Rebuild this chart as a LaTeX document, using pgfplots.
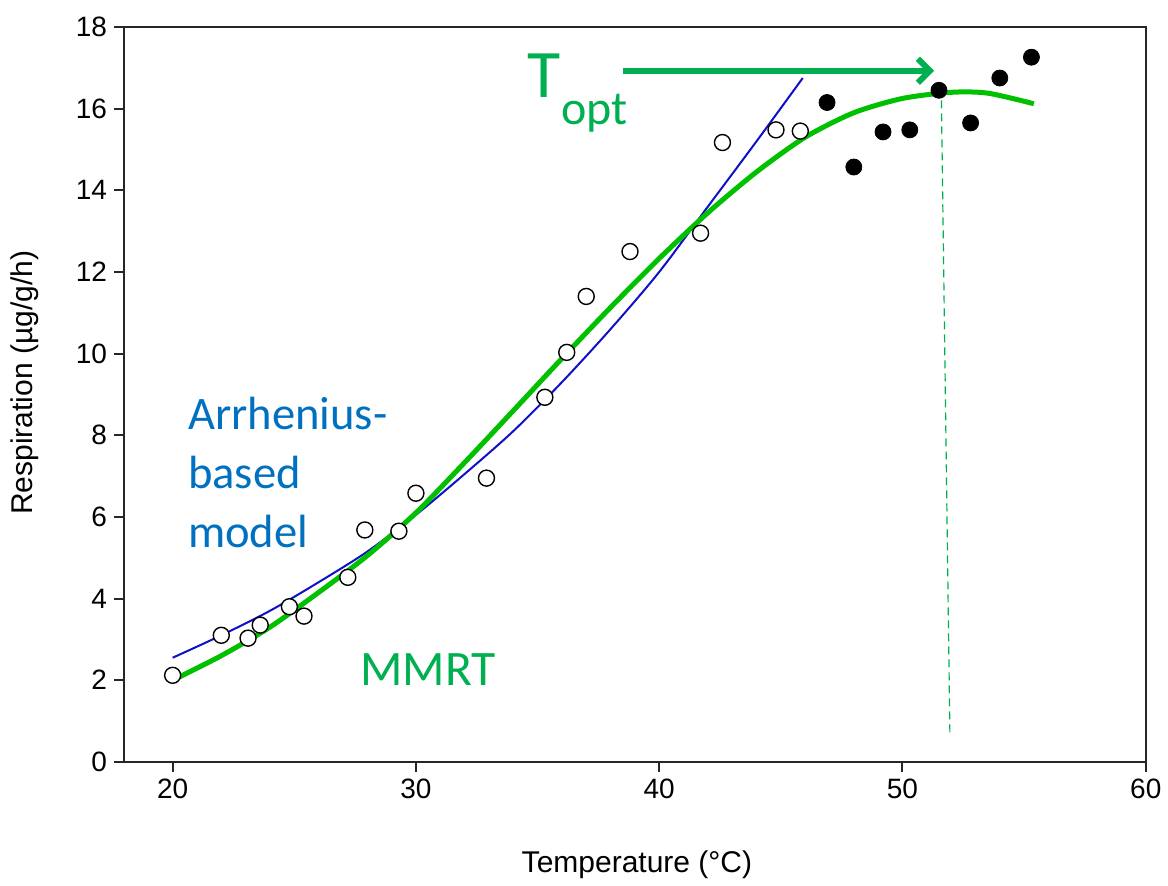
\documentclass[border=0pt]{standalone}
\usepackage{fontspec}
\setmainfont{Liberation Sans}
\newfontfamily\callig{Carlito}
\usepackage{pgfplots}
\pgfplotsset{compat=1.18}
\usetikzlibrary{arrows.meta}

\definecolor{blueline}{HTML}{1010C8}
\definecolor{greenline}{HTML}{00C000}
\definecolor{annogreen}{HTML}{00B050}
\definecolor{annoblue}{HTML}{0070C0}

% open circles (measured below the optimum)
\pgfplotstableread{
x y
20.0 2.12
22.0 3.10
23.1 3.03
23.6 3.35
24.8 3.80
25.4 3.57
27.2 4.52
27.9 5.68
29.3 5.65
30.0 6.58
32.9 6.95
35.3 8.93
36.2 10.03
37.0 11.40
38.8 12.50
41.7 12.95
42.6 15.17
44.8 15.48
45.8 15.45
}\openpts

% filled circles (above the optimum)
\pgfplotstableread{
x y
46.9 16.15
48.0 14.57
49.2 15.43
50.3 15.48
51.5 16.45
52.8 15.65
54.0 16.75
55.3 17.26
}\filledpts

% Arrhenius-based fit
\pgfplotstableread{
x y
20.0 2.55
22.0 3.10
24.0 3.70
26.0 4.40
28.0 5.15
30.0 6.05
32.0 7.05
34.0 8.10
36.0 9.30
38.0 10.60
40.0 12.00
42.0 13.60
44.0 15.20
45.9 16.75
}\arrhenius

% MMRT fit
\pgfplotstableread{
x y
20.0 2.00
22.0 2.60
24.0 3.30
26.0 4.15
28.0 5.05
30.0 6.10
32.0 7.33
34.0 8.60
36.0 9.88
38.0 11.13
40.0 12.33
42.0 13.45
44.0 14.45
46.0 15.30
48.0 15.90
50.0 16.25
52.0 16.40
53.5 16.38
55.4 16.12
}\mmrt

\begin{document}
\begin{tikzpicture}
\begin{axis}[
    scale only axis,
    width=511pt, height=367.5pt,
    xmin=18, xmax=60, ymin=0, ymax=18,
    xtick={20,30,...,60},
    ytick={0,2,...,18},
    tick align=outside,
    xtick pos=bottom, ytick pos=left,
    major tick length=5pt,
    axis line style={line width=1pt, black!85},
    every tick/.style={line width=1pt, black!85},
    tick label style={font=\fontsize{14}{16}\selectfont},
    /pgf/number format/assume math mode=true,
    xlabel={Temperature (°C)},
    ylabel={Respiration (µg/g/h)},
    label style={font=\fontsize{15}{18}\selectfont},
    xlabel style={at={(axis description cs:0.502,-0.14)}, anchor=center},
    ylabel style={at={(axis description cs:-0.097,0.516)}, anchor=center},
    clip=false,
]
\addplot[blueline, line width=1pt, smooth, no marks] table {\arrhenius};
\addplot[greenline, line width=2.5pt, smooth, tension=0.45, no marks] table {\mmrt};
\addplot[only marks, mark=*, mark size=4pt,
    mark options={draw=black, fill=white, line width=0.7pt}] table {\openpts};
\addplot[only marks, mark=*, mark size=4pt,
    mark options={draw=black, fill=black}] table {\filledpts};
\addplot[annogreen, dashed, line width=0.6pt, dash pattern=on 4pt off 2.5pt, no marks]
    coordinates {(51.6,16.2) (51.95,0.65)};

\draw[annogreen, line width=3pt, -{Straight Barb[length=6pt,width=12pt]}]
    (axis cs:38.5,16.93) -- (axis cs:51.3,16.93);
\node[anchor=base west, inner sep=0pt, text=annogreen,
      font=\callig\fontsize{34}{40}\selectfont] at (axis cs:34.55,16.28) {T};
\node[anchor=base west, inner sep=0pt, text=annogreen,
      font=\callig\fontsize{24}{29}\selectfont] at (axis cs:35.95,15.6) {opt};

\node[anchor=base west, inner sep=0pt, text=annoblue,
      font=\callig\fontsize{23.3}{29}\selectfont] at (axis cs:20.62,8.14) {Arrhenius-};
\node[anchor=base west, inner sep=0pt, text=annoblue,
      font=\callig\fontsize{23.3}{29}\selectfont] at (axis cs:20.62,6.70) {based};
\node[anchor=base west, inner sep=0pt, text=annoblue,
      font=\callig\fontsize{23.3}{29}\selectfont] at (axis cs:20.62,5.26) {model};
\node[anchor=base west, inner sep=0pt, text=annogreen,
      font=\callig\fontsize{24.8}{30}\selectfont] at (axis cs:27.7,1.86) {MMRT};
\end{axis}
\path[use as bounding box] ([shift={(-62pt,-60.5pt)}]current axis.south west)
    rectangle ([shift={(11pt,13.5pt)}]current axis.north east);
\end{tikzpicture}
\end{document}
